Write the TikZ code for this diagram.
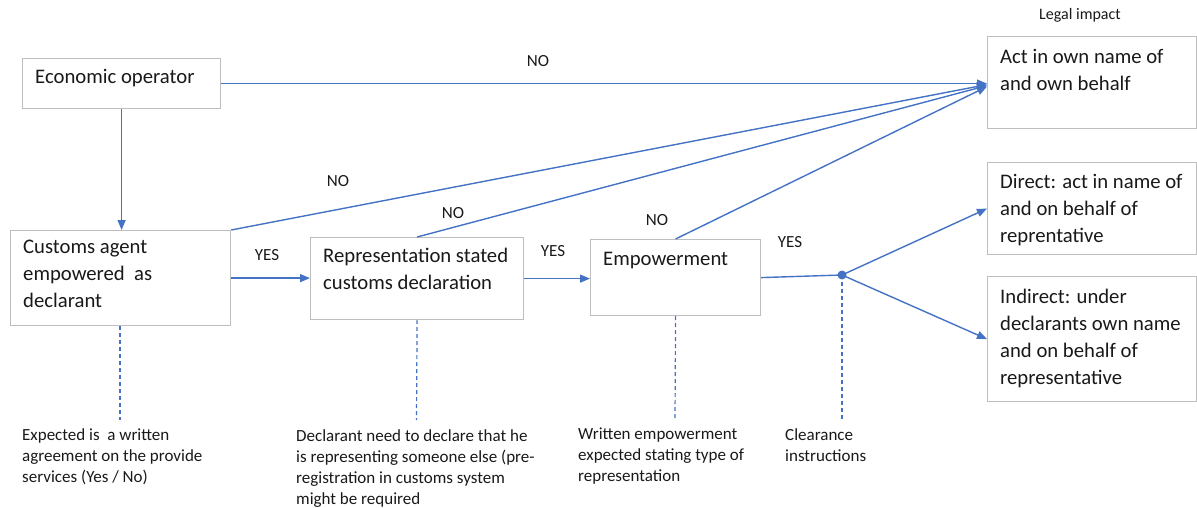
\documentclass[tikz,border=0pt]{standalone}
\usepackage{fontspec}
\setmainfont{Carlito}
\usetikzlibrary{arrows.meta}
\definecolor{flowblue}{RGB}{68,114,196}
\definecolor{boxgray}{RGB}{190,190,190}
\definecolor{inkgray}{RGB}{25,25,25}
\begin{document}
\begin{tikzpicture}[x=1pt,y=-1pt,
  box/.style={draw=boxgray, line width=1.2pt, fill=white, anchor=north west, inner sep=0pt},
  boxtext/.style={inner sep=0pt, align=left, text=inkgray, font=\fontsize{20.7}{27}\selectfont},
  notetext/.style={inner sep=0pt, align=left, text=inkgray, font=\fontsize{17}{21}\selectfont, anchor=north west},
  tag/.style={inner sep=0pt, text=inkgray, font=\fontsize{17}{20}\selectfont},
  flow/.style={draw=flowblue, line width=1.4pt},
  flowarrow/.style={flow, -{Triangle[length=10pt,width=8pt]}},
  guide/.style={draw=flowblue, line width=1.2pt, dash pattern=on 4pt off 3pt}]
\useasboundingbox (0,0) rectangle (1197,508);

% boxes
\node[box, minimum width=198pt, minimum height=50pt] (eo) at (22,58) {};
\node[box, minimum width=220pt, minimum height=95pt] (ca) at (10,230) {};
\node[box, minimum width=213pt, minimum height=82pt] (rep) at (310,237) {};
\node[box, minimum width=170pt, minimum height=76pt] (emp) at (590,239) {};
\node[box, minimum width=209pt, minimum height=92pt] (act) at (987,36) {};
\node[box, minimum width=209pt, minimum height=92pt] (dir) at (987,162) {};
\node[box, minimum width=209pt, minimum height=125pt] (ind) at (987,276) {};

% box texts
\node[boxtext, anchor=west] (eot) at (35,78) {Economic operator};
\node[boxtext, anchor=north west] (cat) at (23,240) {Customs agent\\empowered\ \ as\\declarant};
\node[boxtext, anchor=north west] (rept) at (323,248) {Representation stated\\customs declaration};
\node[boxtext, anchor=west] (empt) at (603,261) {Empowerment};
\node[boxtext, anchor=north west] (actt) at (1000,49) {Act in own name of\\and own behalf};
\node[boxtext, anchor=north west] (dirt) at (1000,174) {Direct: act in name of\\and on behalf of\\reprentative};
\node[boxtext, anchor=north west] (indt) at (1000,289) {Indirect: under\\declarants own name\\and on behalf of\\representative};

% heading
\node[tag, font=\fontsize{16}{19}\selectfont] (legal) at (1080,15) {Legal impact};

% junction
\coordinate (split) at (842,275);

% main flow
\draw[flowarrow] (eo.south) -- (ca.north -| eo.south);
\draw[flowarrow] (ca.east) -- (rep.west |- ca.east);
\draw[flowarrow] (rep.east) -- (emp.west |- rep.east);
\draw[flow] (emp.east) -- (split);
\draw[flowarrow] (split) -- (dir.west);
\draw[flowarrow] (split) -- (ind.west);
\fill[flowblue] (split) circle (4.5pt);

% NO branches
\draw[flowarrow] (eo.east) -- (act.west |- eo.east);
\draw[flowarrow] (ca.north east) -- ([yshift=-2pt]act.west);
\draw[flowarrow] (rep.north) -- ([yshift=-3pt]act.west);
\draw[flowarrow] (emp.north) -- ([yshift=-4pt]act.west);

% branch labels
\node[tag] (no1) at (538,61) {NO};
\node[tag] (no2) at (338,181) {NO};
\node[tag] (no3) at (453,213) {NO};
\node[tag] (no4) at (657,220) {NO};
\node[tag] (yes1) at (267,255) {YES};
\node[tag] (yes2) at (553,251) {YES};
\node[tag] (yes3) at (790,242) {YES};

% dotted guides to the notes
\coordinate (g1) at (120,420);
\coordinate (g2) at (416.5,420);
\coordinate (g3) at (675,418);
\coordinate (g4) at (842,420);
\draw[guide] (ca.south -| g1) -- (g1);
\draw[guide] (rep.south) -- (g2);
\draw[guide] (emp.south) -- (g3);
\draw[guide] (split) -- (g4);

% notes
\node[notetext] (n1) at (22,428) {Expected is\ \ a written\\agreement on the provide\\services (Yes / No)};
\node[notetext] (n2) at (296,429) {Declarant need to declare that he\\is representing someone else (pre-\\registration in customs system\\might be required};
\node[notetext] (n3) at (578,428) {Written empowerment\\expected stating type of\\representation};
\node[notetext] (n4) at (785,428) {Clearance\\instructions};
\end{tikzpicture}
\end{document}
